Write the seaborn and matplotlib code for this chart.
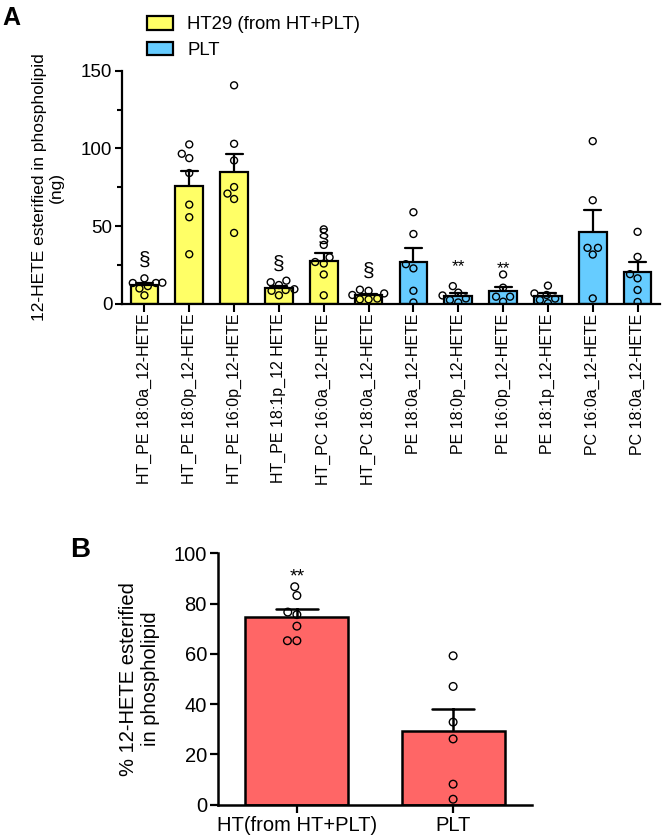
import numpy as np
import pandas as pd
import matplotlib
matplotlib.use("Agg")
import matplotlib.pyplot as plt
import seaborn as sns
from matplotlib.patches import Patch
from matplotlib.ticker import MultipleLocator

# ---------------- data ----------------
categories_a = ["HT_PE 18:0a_12-HETE", "HT_PE 18:0p_12-HETE", "HT_PE 16:0p_12-HETE",
                "HT_PE 18:1p_12 HETE", "HT_PC 16:0a_12-HETE", "HT_PC 18:0a_12-HETE",
                "PE 18:0a_12-HETE", "PE 18:0p_12-HETE", "PE 16:0p_12-HETE",
                "PE 18:1p_12-HETE", "PC 16:0a_12-HETE", "PC 18:0a_12-HETE"]
groups_a = ["HT29 (from HT+PLT)"] * 6 + ["PLT"] * 6

ht_pe_180a = [11.5, 13.5, 13.7, 16.5, 10.0, 5.6, 13.5]
ht_pe_180p = [102.6, 96.6, 93.8, 84.2, 63.9, 55.8, 32.0]
ht_pe_160p = [140.6, 103.0, 92.3, 75.2, 71.0, 67.5, 45.7]
ht_pe_181p = [15.0, 14.0, 12.2, 9.0, 9.5, 5.6, 8.5]
ht_pc_160a = [48.0, 38.0, 30.0, 27.0, 26.0, 19.0, 5.6]
ht_pc_180a = [9.2, 8.5, 6.8, 5.8, 3.0, 3.5, 3.0]
pe_180a = [59.0, 45.0, 25.6, 22.9, 8.5, 1.0]
pe_180p = [11.5, 7.3, 5.5, 3.6, 2.6, 1.0]
pe_160p = [19.0, 10.5, 4.7, 4.7, 1.5]
pe_181p = [11.8, 6.8, 5.8, 3.5, 2.6, 0.5]
pc_160a = [104.7, 66.7, 36.1, 36.1, 31.8, 3.6]
pc_180a = [46.4, 30.3, 19.2, 16.5, 9.0, 1.3]
values_a = [ht_pe_180a, ht_pe_180p, ht_pe_160p, ht_pe_181p, ht_pc_160a, ht_pc_180a,
            pe_180a, pe_180p, pe_160p, pe_181p, pc_160a, pc_180a]

# significance marks (category -> (text, y))
marks_a = {"HT_PE 18:0a_12-HETE": ("§", 28), "HT_PE 18:1p_12 HETE": ("§", 25.6),
           "HT_PC 16:0a_12-HETE": ("§", 43), "HT_PC 18:0a_12-HETE": ("§", 21.3),
           "PE 18:0p_12-HETE": ("**", 24.0), "PE 16:0p_12-HETE": ("**", 22.5)}

categories_b = ["HT(from HT+PLT)", "PLT"]
b_ht = [86.7, 83.2, 76.6, 75.6, 71.0, 65.2, 65.2]
b_plt = [59.2, 47.0, 32.8, 26.1, 8.1, 2.1]
values_b = [b_ht, b_plt]
marks_b = {"HT(from HT+PLT)": ("**", 90.5)}

colors_a = {"HT29 (from HT+PLT)": "#FFFF66", "PLT": "#66CCFF"}
color_b = "#FF6666"

rows = []
for cat, grp, vals in zip(categories_a, groups_a, values_a):
    for v in vals:
        rows.append({"label": cat, "group": grp, "value": v})
dfA = pd.DataFrame(rows)
rows = []
for cat, vals in zip(categories_b, values_b):
    for v in vals:
        rows.append({"label": cat, "value": v})
dfB = pd.DataFrame(rows)

# ---------------- style ----------------
sns.set_style("ticks")
plt.rcParams["font.family"] = ["Liberation Sans", "DejaVu Sans"]
plt.rcParams["axes.linewidth"] = 1.5
for k in ["text.color", "axes.labelcolor", "xtick.color", "ytick.color", "axes.edgecolor"]:
    plt.rcParams[k] = "black"

W, H = 664, 839
fig = plt.figure(figsize=(W / 100, H / 100), dpi=100)

# ---------------- panel A ----------------
axA = fig.add_axes([122 / W, 1 - 304 / H, (660 - 122) / W, (304 - 70.7) / H])
sns.barplot(data=dfA, x="label", y="value", hue="group", order=categories_a,
            hue_order=list(colors_a.keys()), palette=colors_a, dodge=False,
            saturation=1, errorbar="se", capsize=0.38, width=0.62, edgecolor="black",
            linewidth=1.6, err_kws={"color": "black", "linewidth": 1.6, "zorder": 0.5},
            legend=False, ax=axA)
sns.swarmplot(data=dfA, x="label", y="value", order=categories_a, color="black",
              facecolor="none", edgecolor="black", linewidth=1.0, size=5.0,
              ax=axA, zorder=3)
for coll in axA.collections:
    coll.set_facecolor("none")
for cat, (txt, yv) in marks_a.items():
    axA.text(categories_a.index(cat), yv, txt, ha="center", va="center",
             fontsize=15 if txt == "§" else 12.5)

axA.set_xlim(-0.5, len(categories_a) - 0.5)
axA.set_ylim(0, 150)
axA.set_yticks([0, 50, 100, 150])
axA.yaxis.set_minor_locator(MultipleLocator(25))
axA.tick_params(axis="y", which="major", length=5, width=1.5, labelsize=13.5, pad=2)
axA.tick_params(axis="y", which="minor", length=3.5, width=1.5)
axA.tick_params(axis="x", length=6, width=1.5, labelsize=11.5, pad=1)
axA.set_xticks(range(len(categories_a)))
axA.set_xticklabels(categories_a, rotation=90, ha="center", va="top")
axA.set_xlabel("")
axA.set_ylabel("12-HETE esterified in phospholipid\n(ng)", fontsize=12.5, labelpad=12)
sns.despine(ax=axA)
for s in ["left", "bottom"]:
    axA.spines[s].set_linewidth(1.6)

handles = [Patch(facecolor=c, edgecolor="black", linewidth=1.6) for c in colors_a.values()]
fig.legend(handles, list(colors_a.keys()), loc="upper left",
           bbox_to_anchor=(147 / W, 1 - 16 / H), frameon=False, fontsize=13.4,
           handlelength=1.4, handleheight=0.75, handletextpad=0.75,
           labelspacing=0.45, borderpad=0, borderaxespad=0)

fig.text(2 / W, 1 - 25 / H, "A", fontsize=18, fontweight="bold", va="baseline")

# ---------------- panel B ----------------
axB = fig.add_axes([218 / W, 34.5 / H, (532 - 218) / W, (804.5 - 553.3) / H])
sns.barplot(data=dfB, x="label", y="value", order=categories_b, color=color_b,
            saturation=1, errorbar="se", capsize=0.27, width=0.66, edgecolor="black",
            linewidth=1.8, err_kws={"color": "black", "linewidth": 1.8, "zorder": 0.5},
            ax=axB)
sns.swarmplot(data=dfB, x="label", y="value", order=categories_b, color="black",
              facecolor="none", edgecolor="black", linewidth=1.0, size=5.5,
              ax=axB, zorder=3)
for coll in axB.collections:
    coll.set_facecolor("none")
for cat, (txt, yv) in marks_b.items():
    axB.text(categories_b.index(cat), yv, txt, ha="center", va="center", fontsize=14)

axB.set_xlim(-0.505, len(categories_b) - 0.495)
axB.set_ylim(0, 100)
axB.set_yticks([0, 20, 40, 60, 80, 100])
axB.tick_params(axis="y", length=6, width=1.6, labelsize=14.5, pad=2)
axB.tick_params(axis="x", length=6, width=1.6, labelsize=14.5, pad=2)
axB.set_xlabel("")
axB.set_ylabel("% 12-HETE esterified\nin phospholipid", fontsize=14.5, labelpad=10)
sns.despine(ax=axB)
for s in ["left", "bottom"]:
    axB.spines[s].set_linewidth(1.8)

fig.text(70 / W, 1 - 557 / H, "B", fontsize=20, fontweight="bold", va="baseline")

fig.savefig("out.png", dpi=100)
